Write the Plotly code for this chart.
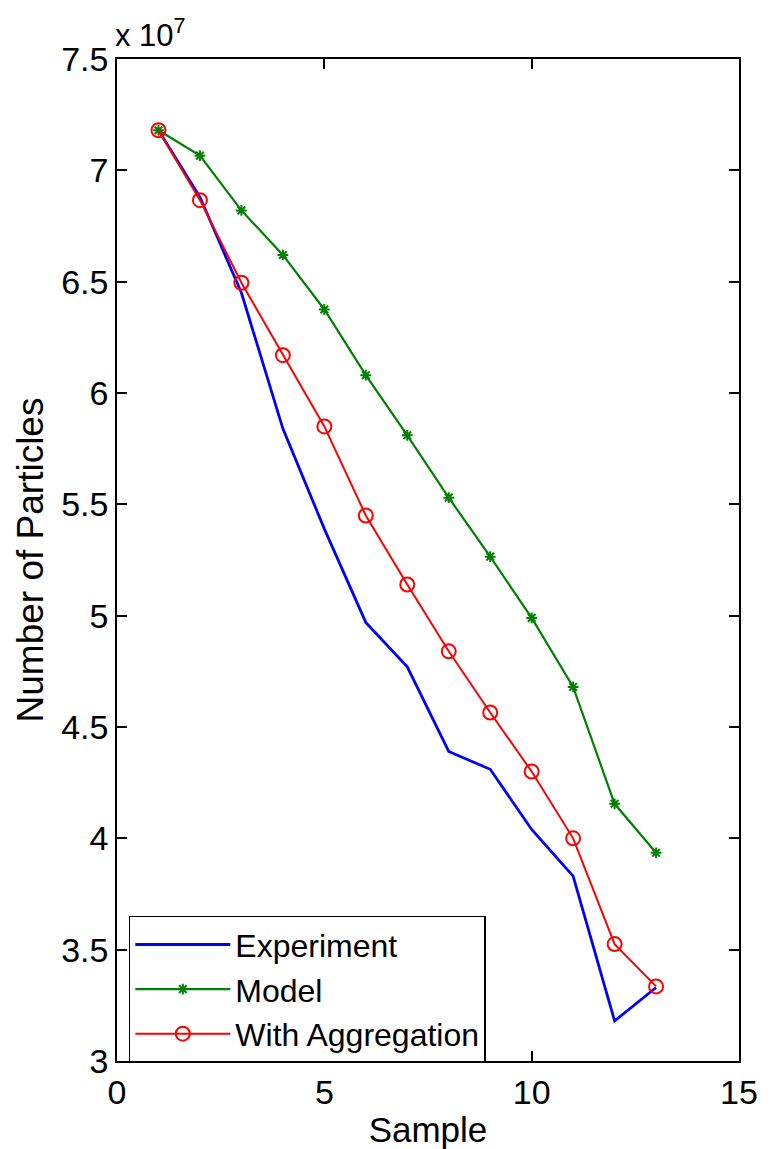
import plotly.graph_objects as go

# Sample index
samples = [1, 2, 3, 4, 5, 6, 7, 8, 9, 10, 11, 12, 13]

# Particle counts (x 10^7)
experiment = [7.18, 6.88, 6.45, 5.84, 5.39, 4.97, 4.77, 4.39, 4.31, 4.04, 3.83, 3.18, 3.33]
model = [7.18, 7.066, 6.82, 6.62, 6.375, 6.08, 5.81, 5.53, 5.265, 4.99, 4.68, 4.155, 3.935]
aggregation = [7.18, 6.866, 6.495, 6.17, 5.85, 5.45, 5.14, 4.84, 4.565, 4.30, 4.00, 3.525, 3.335]

scale = 1e7
y_ticks = [3, 3.5, 4, 4.5, 5, 5.5, 6, 6.5, 7, 7.5]
y_tick_text = ["3", "3.5", "4", "4.5", "5", "5.5", "6", "6.5", "7", "7.5"]
x_ticks = [0, 5, 10, 15]

FONT = "Liberation Sans, Arial, sans-serif"

fig = go.Figure()
fig.add_trace(go.Scatter(
    x=samples, y=[v * scale for v in experiment], name="Experiment",
    mode="lines", line=dict(color="#0000FF", width=2.8),
))
fig.add_trace(go.Scatter(
    x=samples, y=[v * scale for v in model], name="Model",
    mode="lines+markers", line=dict(color="#008000", width=2.2),
    marker=dict(symbol="asterisk-open", size=9, line=dict(color="#008000", width=2)),
))
fig.add_trace(go.Scatter(
    x=samples, y=[v * scale for v in aggregation], name="With Aggregation",
    mode="lines+markers", line=dict(color="#FF0000", width=2),
    marker=dict(symbol="circle-open", size=14, color="#FF0000",
                line=dict(color="#FF0000", width=2)),
))

axis_common = dict(
    showgrid=False, zeroline=False, showline=True, linecolor="black", linewidth=1.5,
    mirror="ticks", ticks="inside", ticklen=10, tickwidth=1.5, tickcolor="black",
    tickfont=dict(family=FONT, size=34, color="black"), automargin=False,
)

fig.update_xaxes(
    range=[0, 15], tickvals=x_ticks, title_text="Sample", title_standoff=10,
    title_font=dict(family=FONT, size=35, color="black"),
    **axis_common,
)
fig.update_yaxes(
    range=[3 * scale, 7.5 * scale], tickvals=[v * scale for v in y_ticks],
    ticktext=y_tick_text, title_text="Number of Particles", title_standoff=6,
    title_font=dict(family=FONT, size=37, color="black"),
    **axis_common,
)

fig.add_annotation(
    xref="paper", yref="paper", x=0, y=1, xanchor="left", yanchor="bottom",
    yshift=4, xshift=-4, showarrow=False,
    text="x 10<sup>7</sup>", font=dict(family=FONT, size=31, color="black"),
)

fig.update_layout(
    width=773, height=1149,
    margin=dict(l=117, r=34, t=59, b=88),
    paper_bgcolor="white", plot_bgcolor="white",
    showlegend=True,
    legend=dict(
        x=0.019, y=0.145, xanchor="left", yanchor="top",
        bgcolor="white", bordercolor="black", borderwidth=1.5,
        font=dict(family=FONT, size=32, color="black"),
        itemwidth=95, tracegroupgap=0,
    ),
)

fig.write_html("out.html")
